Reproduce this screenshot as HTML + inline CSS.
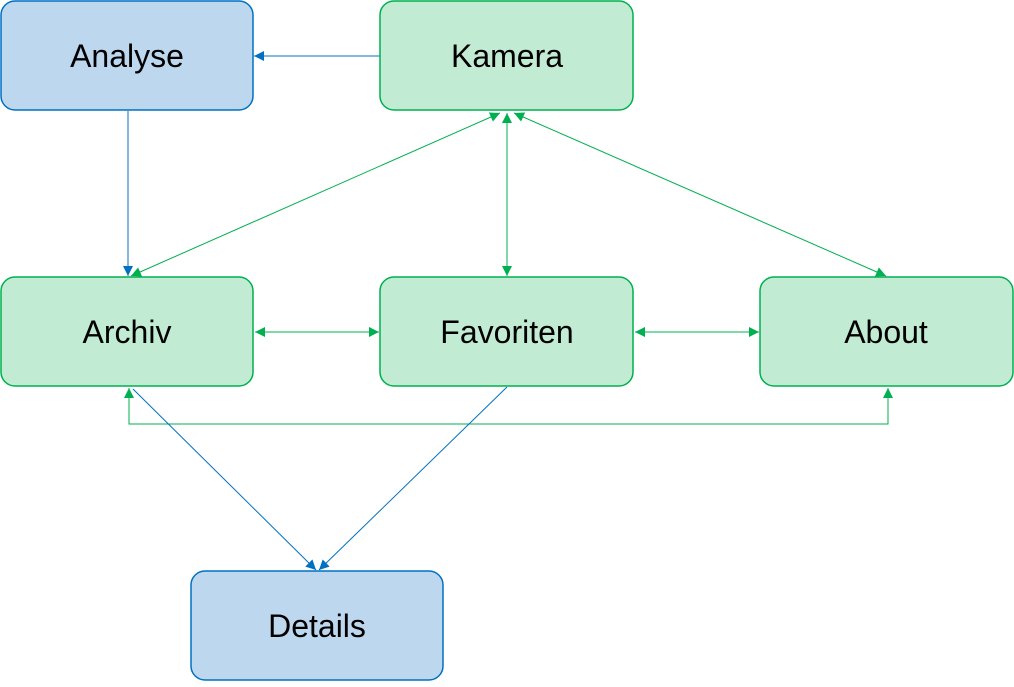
<!DOCTYPE html>
<html><head><meta charset="utf-8"><style>
body{margin:0;width:1014px;height:682px;background:#fff;overflow:hidden}
</style></head><body>
<svg width="1014" height="682" viewBox="0 0 1014 682" xmlns="http://www.w3.org/2000/svg">
<defs>
<marker id="g" viewBox="0 0 10 10" refX="10" refY="5" markerWidth="10" markerHeight="10" markerUnits="userSpaceOnUse" orient="auto-start-reverse"><path d="M0,0 L10,5 L0,10 z" fill="#00B050"/></marker>
<marker id="b" viewBox="0 0 10 10" refX="10" refY="5" markerWidth="10" markerHeight="10" markerUnits="userSpaceOnUse" orient="auto-start-reverse"><path d="M0,0 L10,5 L0,10 z" fill="#0070C0"/></marker>
</defs>
<g fill="none" stroke-width="1">
<line x1="380" y1="56" x2="254" y2="56" stroke="#0070C0" marker-end="url(#b)"/>
<line x1="128" y1="111" x2="128" y2="276" stroke="#0070C0" marker-end="url(#b)"/>
<line x1="500" y1="113" x2="131" y2="276" stroke="#00B050" marker-start="url(#g)" marker-end="url(#g)"/>
<line x1="507" y1="113" x2="507" y2="276" stroke="#00B050" marker-start="url(#g)" marker-end="url(#g)"/>
<line x1="514" y1="113" x2="886" y2="276" stroke="#00B050" marker-start="url(#g)" marker-end="url(#g)"/>
<line x1="255" y1="332" x2="379" y2="332" stroke="#00B050" marker-start="url(#g)" marker-end="url(#g)"/>
<line x1="635" y1="332" x2="759" y2="332" stroke="#00B050" marker-start="url(#g)" marker-end="url(#g)"/>
<polyline points="129,388 129,424 888,424 888,388" stroke="#00B050" marker-start="url(#g)" marker-end="url(#g)"/>
<line x1="133" y1="389" x2="316" y2="570" stroke="#0070C0" marker-end="url(#b)"/>
<line x1="507" y1="387" x2="319" y2="570" stroke="#0070C0" marker-end="url(#b)"/>
</g>
<g stroke-width="1.5">
<rect x="1" y="1" width="252" height="109" rx="14" fill="#BDD7EE" stroke="#0070C0"/>
<rect x="380" y="1" width="253" height="109" rx="14" fill="#C2EBD3" stroke="#00B050"/>
<rect x="1" y="277" width="252" height="109" rx="14" fill="#C2EBD3" stroke="#00B050"/>
<rect x="380" y="277" width="253" height="109" rx="14" fill="#C2EBD3" stroke="#00B050"/>
<rect x="760" y="277" width="253" height="109" rx="14" fill="#C2EBD3" stroke="#00B050"/>
<rect x="191" y="571" width="252" height="109" rx="14" fill="#BDD7EE" stroke="#0070C0"/>
</g>
<g font-family="Liberation Sans, sans-serif" font-size="32" text-anchor="middle" fill="#000">
<text x="127" y="67">Analyse</text>
<text x="507" y="67">Kamera</text>
<text x="127" y="343">Archiv</text>
<text x="507" y="343">Favoriten</text>
<text x="886" y="343">About</text>
<text x="317" y="637">Details</text>
</g>
</svg>
</body></html>
